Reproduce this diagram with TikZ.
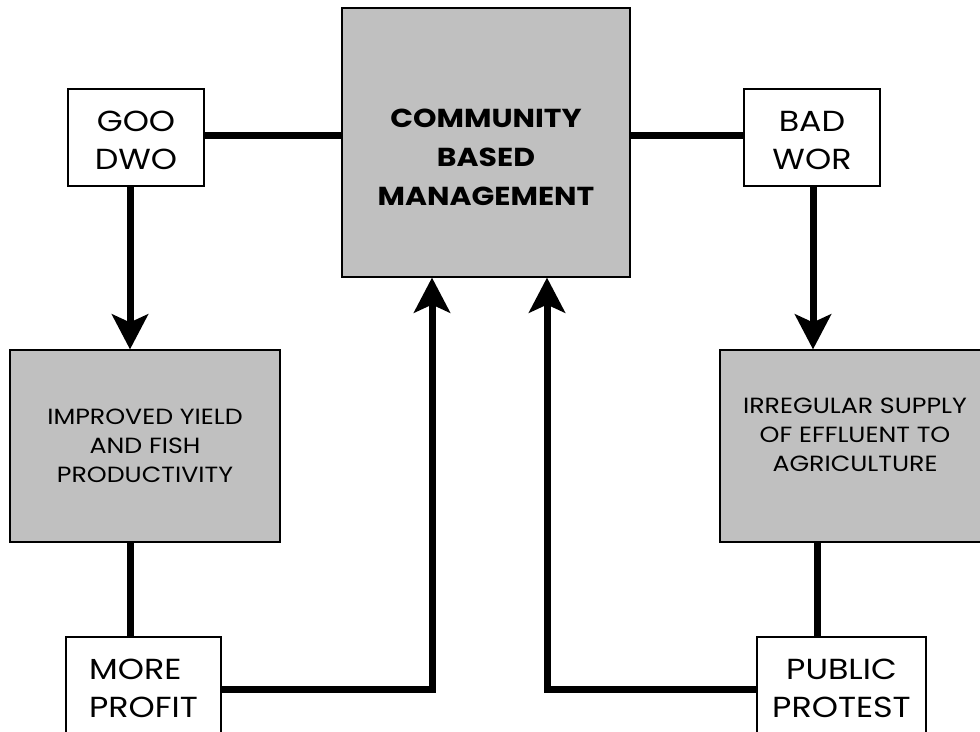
\documentclass[tikz,border=0pt]{standalone}
\usepackage{fontspec}
\setmainfont[FakeStretch=1.15]{Poppins}
\usetikzlibrary{arrows.meta,positioning}
\definecolor{boxgray}{HTML}{C0C0C0}

\begin{document}
\begin{tikzpicture}[x=1pt,y=-1pt]
	\tikzstyle{tag} = [rectangle, draw, line width=1.2pt, fill=white, align=center, inner sep=0pt, minimum width=136pt, minimum height=97pt, font=\fontsize{29}{38}\selectfont]
	\tikzstyle{block} = [rectangle, draw, line width=1.2pt, fill=boxgray, align=center, inner sep=0pt, minimum width=270pt, minimum height=192pt, font=\fontsize{22}{29}\selectfont]
	\tikzstyle{hub} = [rectangle, draw, line width=1.2pt, fill=boxgray, align=center, inner sep=0pt, minimum width=288pt, minimum height=269pt, font=\bfseries\fontsize{26}{39}\selectfont]
	\tikzstyle{link} = [draw, line width=7pt]
	\tikzstyle{arrow} = [link, -{Stealth[length=35pt,width=36pt,inset=8pt]}]
	\clip (0,0) rectangle (980,731);

	\node [hub] (cbm) at (486,142.5) {\rule{0pt}{49pt}COMMUNITY\\BASED\\MANAGEMENT};
	\node [tag] (good) at (136,137.5) {\rule{0pt}{27pt}GOO\\DWO};
	\node [tag] (bad) at (812,137.5) {\rule{0pt}{27pt}BAD\\WOR};
	\node [block] (yield) at (145,446) {IMPROVED YIELD\\AND FISH\\PRODUCTIVITY};
	\node [block] (supply) at (855,446) {IRREGULAR SUPPLY\\OF EFFLUENT TO\\AGRICULTURE\rule[-22pt]{0pt}{0pt}};
	\node [tag, minimum width=155pt, minimum height=102pt, align=left] (profit) at (143.5,688) {MORE\\PROFIT};
	\node [tag, minimum width=169pt, minimum height=102pt] (protest) at (841.5,688) {PUBLIC\\PROTEST};

	% good and bad sides
	\draw[link] ([yshift=2.5pt]good.east) -- ([yshift=7.5pt]cbm.west);
	\draw[link] ([yshift=7.5pt]cbm.east) -- ([yshift=2.5pt]bad.west);
	\draw[arrow] ([xshift=-6pt]good.south) -- ([xshift=-15pt]yield.north);
	\draw[arrow] ([xshift=1pt]bad.south) -- ([xshift=-42pt]supply.north);
	\draw[link] ([xshift=-15pt]yield.south) -- ([xshift=-13.5pt]profit.north);
	\draw[link] ([xshift=-38pt]supply.south) -- ([xshift=-24.5pt]protest.north);
	% feedback
	\draw[arrow] ([yshift=-1pt]profit.east) -| ([xshift=-54pt]cbm.south);
	\draw[arrow] ([yshift=-1pt]protest.west) -| ([xshift=61pt]cbm.south);
\end{tikzpicture}
\end{document}
